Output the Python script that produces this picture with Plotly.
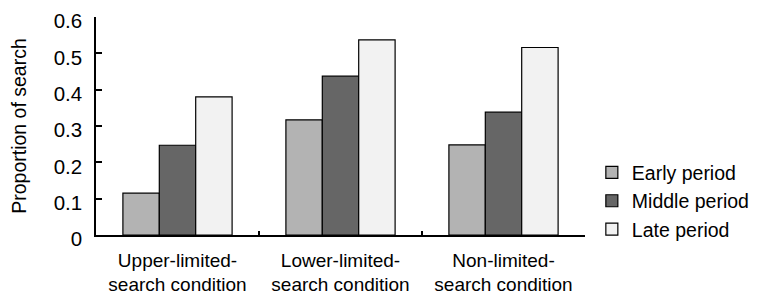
import plotly.graph_objects as go

categories = ["Upper-limited-<br>search condition", "Lower-limited-<br>search condition", "Non-limited-<br>search condition"]
series_names = ["Early period", "Middle period", "Late period"]
early = [0.115, 0.317, 0.248]
middle = [0.247, 0.437, 0.338]
late = [0.38, 0.537, 0.516]
colors = ["#b3b3b3", "#666666", "#f2f2f2"]
y_ticks = [0, 0.1, 0.2, 0.3, 0.4, 0.5, 0.6]
y_tick_labels = ["0", "0.1", "0.2", "0.3", "0.4", "0.5", "0.6"]

fig = go.Figure()
for name, vals, col in zip(series_names, [early, middle, late], colors):
    fig.add_trace(go.Bar(x=categories, y=vals, name=name,
                         marker=dict(color=col, line=dict(color="black", width=1.2))))

# page body has an 8px margin; figure sized to fit the window
fig.update_layout(
    width=750, height=293,
    margin=dict(l=88, r=173, t=9, b=66, autoexpand=False),
    paper_bgcolor="white", plot_bgcolor="white",
    barmode="group", bargap=0.33, bargroupgap=0,
    font=dict(family="Liberation Sans, Arial, sans-serif", size=19, color="black"),
    legend=dict(x=1.014, y=0.155, xanchor="left", yanchor="middle",
                font=dict(size=19.5), tracegroupgap=0, itemwidth=30,
                bgcolor="rgba(0,0,0,0)"),
    showlegend=True,
)
fig.update_xaxes(showline=True, linecolor="black", linewidth=1.5, showgrid=False,
                 ticks="inside", tickson="boundaries", ticklen=4, tickwidth=1.5,
                 tickcolor="black", tickfont=dict(size=19), automargin=False,
                 ticklabelstandoff=7)
fig.update_yaxes(range=[0, 0.6], tickvals=y_ticks, ticktext=y_tick_labels,
                 showline=True, linecolor="black", linewidth=1.5, showgrid=False,
                 ticks="inside", ticklen=6, tickwidth=1.5, tickcolor="black",
                 zeroline=False, tickfont=dict(size=20.5), automargin=False,
                 ticklabeloverflow="allow", ticklabelstandoff=8, ticklabelshift=4,
                 title=dict(text="Proportion of search", font=dict(size=19.5), standoff=24))
fig.write_html("out.html")
